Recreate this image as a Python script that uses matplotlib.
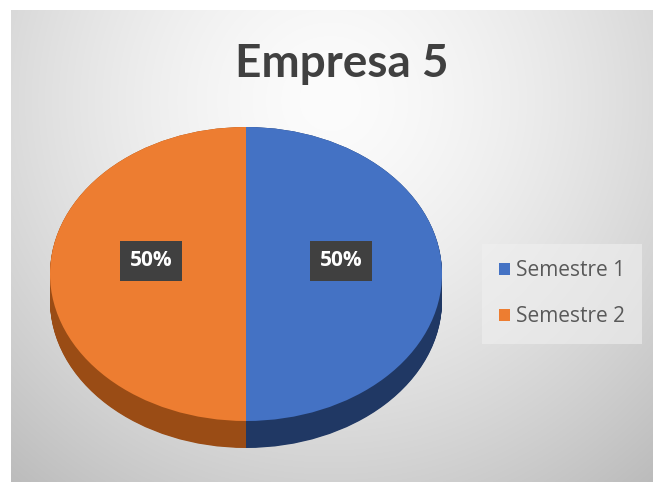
import numpy as np
import matplotlib
matplotlib.use("Agg")
import matplotlib.pyplot as plt

title = "Empresa 5"
categories = ["Semestre 1", "Semestre 2"]
values = [50, 50]
top_colors = ["#4472c4", "#ed7d31"]
side_colors = ["#203864", "#9a4c15"]

W, H = 653, 482
fig = plt.figure(figsize=(W / 100, H / 100), dpi=100)
fig.patch.set_facecolor("white")

# background gradient (chart area)
bg = fig.add_axes([11 / W, 0, 1 - 11 / W, 1 - 10 / H])
bg.set_axis_off()
yy, xx = np.mgrid[10:H, 11:W]
r = np.sqrt(((xx - 330) / 420.0) ** 2 + ((yy - 100) / 420.0) ** 2)
val = np.clip(252 - 50 * r ** 1.5, 185, 252) / 255.0
img = np.dstack([val, val, val])
bg.imshow(img, aspect="auto", extent=[0, 1, 0, 1], interpolation="bilinear")
bg.set_xlim(0, 1)
bg.set_ylim(0, 1)

# pie axes: 196 px per x-unit, 147 px per y-unit, center at (246, 274)
cx, cy = 246, 274
sx, sy = 196.0, 147.0
xl, yl_lo, yl_hi = 1.25, -1.35, 1.2
left_px = cx - xl * sx
width_px = 2 * xl * sx
top_px = cy - yl_hi * sy
height_px = (yl_hi - yl_lo) * sy
ax = fig.add_axes([left_px / W, (H - top_px - height_px) / H, width_px / W, height_px / H])

depth = 27.0 / sy
for d in np.linspace(depth, 0.0, 40):
    ax.pie(values, colors=side_colors, startangle=90, counterclock=False,
           center=(0, -d), radius=1.0, wedgeprops=dict(linewidth=0))
wedges, texts, autotexts = ax.pie(
    values, colors=top_colors, startangle=90, counterclock=False,
    center=(0, 0), radius=1.0, autopct="%.0f%%", pctdistance=0.485,
    wedgeprops=dict(linewidth=0),
    textprops=dict(color="white", fontsize=15, fontweight="bold", family="Open Sans"))
for t in autotexts:
    x, y = t.get_position()
    t.set_position((x, y + 0.09))
    t.set_zorder(10)
    t.set_bbox(dict(boxstyle="square,pad=0.45", facecolor="#404040", edgecolor="none"))
ax.set_aspect("auto")
ax.set_xlim(-xl, xl)
ax.set_ylim(yl_lo, yl_hi)
ax.set_axis_off()

fig.text(342 / W, (H - 77) / H, title, ha="center", va="baseline",
         fontsize=33, fontweight="bold", color="#404040", family="Lato")

leg = fig.legend(wedges, categories, loc="center left",
                 bbox_to_anchor=(482 / W, (H - 294) / H),
                 frameon=True, fancybox=False,
                 prop=dict(family="Open Sans", size=15),
                 handlelength=0.55, handleheight=0.55, handletextpad=0.3,
                 labelspacing=1.2, borderpad=0.8, borderaxespad=0)
leg.get_frame().set_facecolor("#f0f0f0")
leg.get_frame().set_edgecolor("none")
leg.get_frame().set_alpha(0.6)
for t in leg.get_texts():
    t.set_color("#595959")

fig.savefig("out.png", dpi=100)
